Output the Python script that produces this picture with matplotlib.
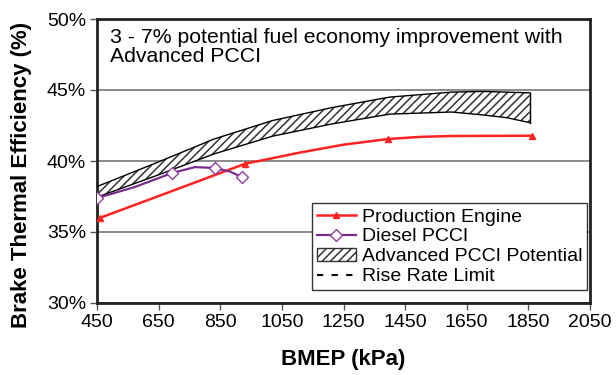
import numpy as np
import matplotlib
matplotlib.use("Agg")
import matplotlib.pyplot as plt
from matplotlib.lines import Line2D
from matplotlib.patches import Patch

# Production engine (red), markers only on the measured points
prod_x = [460, 640, 930, 1110, 1250, 1395, 1500, 1600, 1862]
prod_y = [36.0, 37.45, 39.8, 40.6, 41.15, 41.55, 41.7, 41.76, 41.78]
prod_marks = [0, 2, 5, 8]

# Diesel PCCI (purple)
pcci_x = [450, 573, 693, 768, 833, 882, 921]
pcci_y = [37.39, 38.17, 39.15, 39.57, 39.51, 39.25, 38.87]
pcci_marks = [0, 2, 4, 6]

# Advanced PCCI potential band
band_x = [450, 640, 830, 1020, 1210, 1400, 1600, 1700, 1780, 1855]
band_hi = [38.2, 39.85, 41.55, 42.85, 43.75, 44.5, 44.85, 44.9, 44.85, 44.8]
band_lo = [37.45, 38.95, 40.5, 41.75, 42.6, 43.3, 43.45, 43.25, 43.05, 42.7]

xticks = [450, 650, 850, 1050, 1250, 1450, 1650, 1850, 2050]
yticks = [30, 35, 40, 45, 50]

plt.rcParams['font.family'] = ['Liberation Sans', 'DejaVu Sans']
plt.rcParams['hatch.linewidth'] = 1.1

fig = plt.figure(figsize=(6.16, 3.75), dpi=100)
ax = fig.add_axes([97/616, 1-303/375, 493/616, 284/375])

ax.fill_between(band_x, band_lo, band_hi, facecolor='white', edgecolor='#333333',
                hatch='////', linewidth=0, zorder=2)
ax.plot(band_x, band_hi, color='black', lw=1.0, zorder=3)
ax.plot(band_x, band_lo, color='black', lw=1.0, zorder=3)
ax.plot([band_x[-1], band_x[-1]], [band_lo[-1], band_hi[-1]], color='black', lw=1.0, zorder=3)

ax.plot(prod_x, prod_y, color='#ff2222', lw=1.8, marker='^', ms=5,
        markevery=prod_marks, zorder=4)
ax.plot(pcci_x, pcci_y, color='#7b2d8e', lw=1.6, marker='D', ms=6,
        markerfacecolor='white', markeredgecolor='#8e3da0', markeredgewidth=1.0,
        markevery=pcci_marks, zorder=5)

ax.set_xlim(450, 2050)
ax.set_ylim(30, 50)
ax.set_xticks(xticks)
ax.set_yticks(yticks)
ax.set_xticklabels([str(v) for v in xticks], fontsize=14)
ax.set_yticklabels(['%d%%' % v for v in yticks], fontsize=14)
ax.tick_params(direction='out', length=5, width=1, color='#555555', pad=3)
ax.grid(axis='y', color='#777777', lw=1.2)
ax.set_axisbelow(True)
for s in ax.spines.values():
    s.set_color('#222222')
    s.set_linewidth(2)

fig.text(22/616, 1-175/375, 'Brake Thermal Efficiency (%)', rotation=90,
         ha='center', va='center', fontsize=16, fontweight='bold')
fig.text(343/616, 1-360/375, 'BMEP (kPa)', ha='center', va='center',
         fontsize=16, fontweight='bold')

ax.text(0.026, 0.968, '3 - 7% potential fuel economy improvement with\nAdvanced PCCI',
        transform=ax.transAxes, ha='left', va='top', fontsize=15.3, linespacing=1.0)

handles = [
    Line2D([], [], color='#ff2222', lw=1.8, marker='^', ms=5),
    Line2D([], [], color='#7b2d8e', lw=1.6, marker='D', ms=6,
           markerfacecolor='white', markeredgecolor='#8e3da0'),
    Patch(facecolor='white', edgecolor='#333333', hatch='////', linewidth=1.0),
    Line2D([], [], color='black', lw=1.5, ls=(0, (3, 4))),
]
labels = ['Production Engine', 'Diesel PCCI', 'Advanced PCCI Potential', 'Rise Rate Limit']
leg = ax.legend(handles, labels, loc='upper right', bbox_to_anchor=(0.994, 0.352),
                borderaxespad=0, fontsize=14, frameon=True, fancybox=False,
                framealpha=1, edgecolor='#333333', handlelength=2.0,
                handletextpad=0.3, labelspacing=0.12, borderpad=0.25)
leg.get_frame().set_linewidth(1.0)

fig.savefig('out.png', dpi=100)
